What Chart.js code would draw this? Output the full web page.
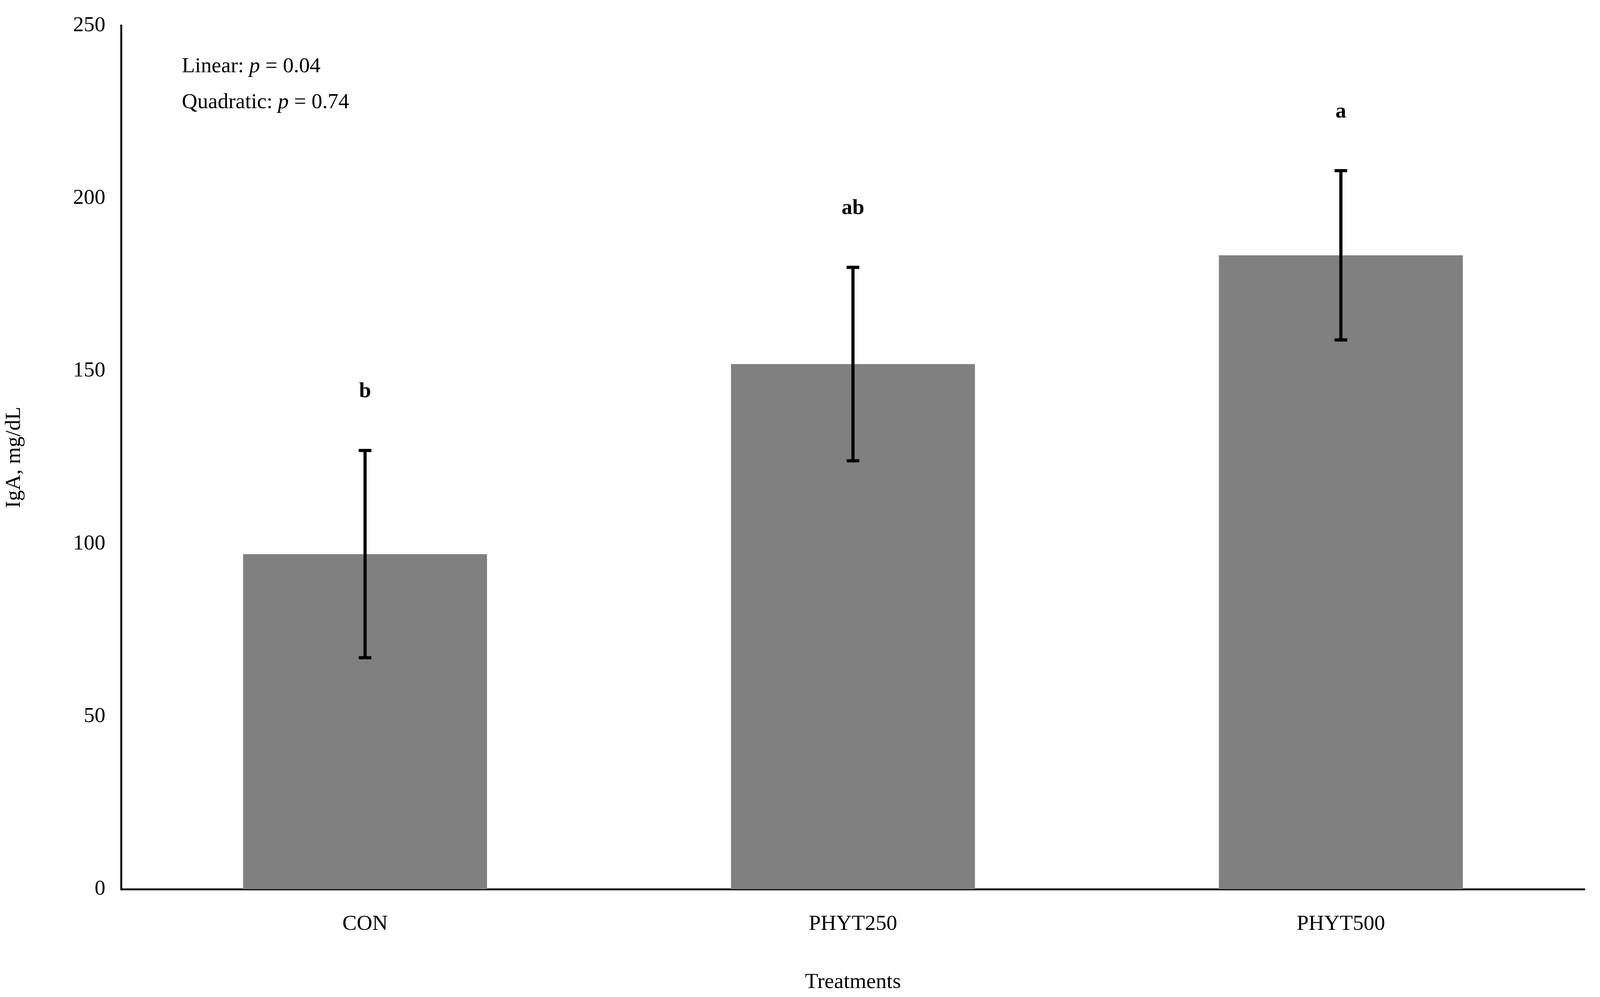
<!DOCTYPE html>
<html>
<head>
<meta charset="utf-8">
<script src="https://cdn.jsdelivr.net/npm/chart.js@4"></script>
<style>
  html, body { margin: 0; padding: 0; background: #fff; overflow: hidden; }
  #wrap { width: 100vw; height: 100vh; position: relative; }
</style>
</head>
<body>
<div id="wrap"><canvas id="myChart"></canvas></div>
<script>
// Data
const treatments = ["CON", "PHYT250", "PHYT500"];
const igaMeans = [97, 152, 183.5];
const igaErrors = [30, 28, 24.5];
const sigLetters = ["b", "ab", "a"];
const statLines = [["Linear: ", "p", " = 0.04"], ["Quadratic: ", "p", " = 0.74"]];

const FONT = "'Liberation Serif', 'DejaVu Serif', serif";
// sizes were worked out for a 5060px wide page; scale to the real CSS viewport
const k = window.innerWidth / 5060;
const px = v => v * k;

// error bars + letters + p-value note
const extras = {
  id: "extras",
  afterDatasetsDraw(chart) {
    const ctx = chart.ctx;
    const y = chart.scales.y;
    const bars = chart.getDatasetMeta(0).data;
    ctx.save();
    ctx.strokeStyle = "#000";
    ctx.lineWidth = px(10);
    bars.forEach((bar, i) => {
      const hi = y.getPixelForValue(igaMeans[i] + igaErrors[i]);
      const lo = y.getPixelForValue(igaMeans[i] - igaErrors[i]);
      ctx.beginPath();
      ctx.moveTo(bar.x, hi); ctx.lineTo(bar.x, lo);
      ctx.moveTo(bar.x - px(20), hi); ctx.lineTo(bar.x + px(20), hi);
      ctx.moveTo(bar.x - px(20), lo); ctx.lineTo(bar.x + px(20), lo);
      ctx.stroke();
      ctx.fillStyle = "#000";
      ctx.font = "bold " + px(68) + "px " + FONT;
      ctx.textAlign = "center";
      ctx.textBaseline = "middle";
      ctx.fillText(sigLetters[i], bar.x, y.getPixelForValue(igaMeans[i] + igaErrors[i] + 17));
    });
    // stats note
    ctx.textAlign = "left";
    ctx.textBaseline = "middle";
    statLines.forEach((parts, j) => {
      let x = chart.chartArea.left + px(192);
      const ty = chart.chartArea.top + px(130) + j * px(114);
      parts.forEach((s, n) => {
        ctx.font = (n === 1 ? "italic " : "") + px(68) + "px " + FONT;
        ctx.fillText(s, x, ty);
        x += ctx.measureText(s).width;
      });
    });
    ctx.restore();
  }
};

new Chart(document.getElementById("myChart"), {
  type: "bar",
  data: {
    labels: treatments,
    datasets: [{
      data: igaMeans,
      backgroundColor: "#808080",
      categoryPercentage: 1,
      barPercentage: 0.5
    }]
  },
  options: {
    responsive: true,
    maintainAspectRatio: false,
    animation: false,
    layout: { padding: { top: px(70), right: px(48), left: 0, bottom: 0 } },
    plugins: { legend: { display: false }, tooltip: { enabled: false } },
    scales: {
      x: {
        grid: { display: false },
        border: { color: "#000", width: px(6) },
        ticks: { color: "#000", font: { family: FONT, size: px(68) }, padding: px(60) },
        title: { display: true, text: "Treatments", color: "#000", font: { family: FONT, size: px(68) }, padding: { top: px(40) } },
        afterFit(s) { s.height = px(341); }
      },
      y: {
        min: 0, max: 250,
        grid: { display: false },
        border: { color: "#000", width: px(6) },
        ticks: { stepSize: 50, color: "#000", font: { family: FONT, size: px(68) }, padding: px(40) },
        title: { display: true, text: "IgA, mg/dL", color: "#000", font: { family: FONT, size: px(68) }, padding: { bottom: px(20) } },
        afterFit(s) { s.width = px(383); }
      }
    }
  },
  plugins: [extras]
});
</script>
</body>
</html>
